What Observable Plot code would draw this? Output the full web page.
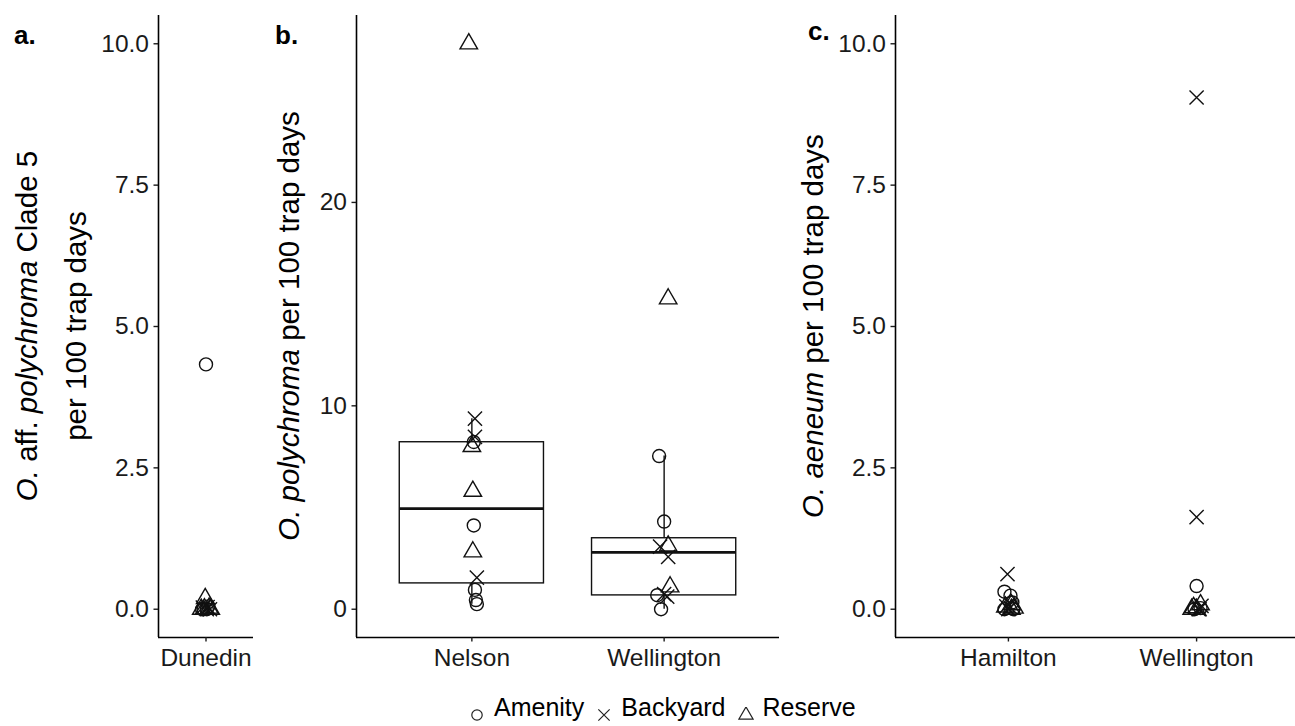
<!DOCTYPE html>
<html><head><meta charset="utf-8">
<script src="https://cdn.jsdelivr.net/npm/d3@7"></script>
<script src="https://cdn.jsdelivr.net/npm/@observablehq/plot@0.6"></script>
<style>
body{margin:0;background:#fff;}
#root{position:relative;width:1295px;height:726px;overflow:hidden;font-family:"Liberation Sans",Arial,sans-serif;color:#000;background:#fff;}
.panel{position:absolute;top:0;}
.ylab{position:absolute;white-space:nowrap;font-size:29.5px;line-height:1;transform:translate(-50%,-50%) rotate(-90deg);}
.tag{position:absolute;font-weight:bold;font-size:26px;line-height:1;}
#legend{position:absolute;left:469px;top:695px;display:flex;align-items:flex-start;font-size:25px;line-height:1;white-space:nowrap;}
#legend svg{position:relative;top:12px;margin-right:9px;}
#legend span{margin-right:12px;}
</style></head><body><div id="root"></div>
<script>
// ---------- shared ----------
const habitats = ["Amenity", "Backyard", "Reserve"];
const habitatSymbols = ["circle", "times", "triangle"];

// ---------- panel a: O. aff. polychroma Clade 5 ----------
const aSites = ["Dunedin"];
const aSite = ["Dunedin","Dunedin","Dunedin","Dunedin","Dunedin","Dunedin","Dunedin","Dunedin","Dunedin","Dunedin","Dunedin","Dunedin","Dunedin","Dunedin"];
const aValue = [4.33, 0.19, 0.05, 0.03, 0.02, 0, 0, 0, 0, 0, 0, 0, 0.04, 0.01];
const aHabitat = ["Amenity","Reserve","Amenity","Backyard","Reserve","Amenity","Backyard","Reserve","Amenity","Backyard","Reserve","Amenity","Backyard","Reserve"];
const aJitter = [0, -0.01, 0.03, -0.04, 0.04, -0.05, 0.01, 0.06, -0.03, 0.05, -0.06, 0.01, 0.02, -0.02];
const aTicks = [0, 2.5, 5, 7.5, 10];
const aDomain = [-0.5, 10.5];

// ---------- panel b: O. polychroma ----------
const bSites = ["Nelson", "Wellington"];
const bSite = ["Nelson","Nelson","Nelson","Nelson","Nelson","Nelson","Nelson","Nelson","Nelson","Nelson","Nelson","Nelson",
  "Wellington","Wellington","Wellington","Wellington","Wellington","Wellington","Wellington","Wellington","Wellington","Wellington","Wellington"];
const bValue = [27.8, 9.37, 8.47, 8.22, 8.0, 5.8, 4.12, 2.82, 1.55, 0.95, 0.45, 0.25,
  15.26, 7.53, 4.31, 3.08, 3.11, 2.57, 1.10, 0.69, 0.74, 0.62, 0.0];
const bHabitat = ["Reserve","Backyard","Backyard","Amenity","Reserve","Reserve","Amenity","Reserve","Backyard","Amenity","Amenity","Amenity",
  "Reserve","Amenity","Amenity","Backyard","Reserve","Backyard","Reserve","Amenity","Backyard","Backyard","Amenity"];
const bJitter = [-0.016, 0.016, 0.016, 0.01, 0, 0.005, 0.01, 0.005, 0.026, 0.016, 0.021, 0.026,
  0.021, -0.026, 0, -0.021, 0.021, 0.021, 0.031, -0.036, 0, 0.016, -0.016];
const bBoxSite = ["Nelson", "Wellington"];
const bBoxQ1 = [1.27, 0.68];
const bBoxMedian = [4.95, 2.80];
const bBoxQ3 = [8.21, 3.49];
const bBoxLow = [0.25, 0.0];
const bBoxHigh = [9.37, 7.53];
const bTicks = [0, 10, 20];
const bDomain = [-1.39, 29.19];

// ---------- panel c: O. aeneum ----------
const cSites = ["Hamilton", "Wellington"];
const cSite = ["Hamilton","Hamilton","Hamilton","Hamilton","Hamilton","Hamilton","Hamilton","Hamilton","Hamilton","Hamilton","Hamilton","Hamilton","Hamilton",
  "Wellington","Wellington","Wellington","Wellington","Wellington","Wellington","Wellington","Wellington","Wellington","Wellington","Wellington","Wellington"];
const cValue = [0.62, 0.31, 0.24, 0.12, 0.08, 0.05, 0.02, 0, 0, 0, 0, 0.04, 0.03,
  9.05, 1.63, 0.41, 0.08, 0.06, 0.03, 0, 0, 0, 0.02, 0, 0];
const cHabitat = ["Backyard","Amenity","Amenity","Amenity","Reserve","Backyard","Reserve","Amenity","Backyard","Reserve","Amenity","Reserve","Backyard",
  "Backyard","Backyard","Amenity","Reserve","Backyard","Reserve","Amenity","Backyard","Reserve","Amenity","Reserve","Backyard"];
const cJitter = [-0.005, -0.021, 0.011, 0.021, 0.016, -0.011, 0.032, -0.021, 0, 0.016, 0.026, -0.016, 0.011,
  0, 0, 0, 0.021, 0.026, -0.016, -0.011, 0.016, 0, 0.021, -0.026, 0.011];
const cTicks = [0, 2.5, 5, 7.5, 10];
const cDomain = [-0.5, 10.5];

// ---------- helpers ----------
const rows = (site, value, habitat, jitter) => site.map((s, i) => ({site: s, value: value[i], habitat: habitat[i], jitter: jitter[i]}));
const root = document.getElementById("root");
const TICK_FS = 24.5;

function panel({left, width, mL, mR, sites, data, yDomain, yTicks, fmt, boxes}) {
  const n = sites.length;
  const xDomain = [0.4, n + 0.6];
  const pos = s => sites.indexOf(s) + 1;
  const marks = [
    Plot.ruleY([yDomain[0]], {stroke: "#000", strokeWidth: 1.6}),
    Plot.ruleX([xDomain[0]], {stroke: "#000", strokeWidth: 1.6}),
    Plot.axisY({ticks: yTicks, tickFormat: fmt, tickSize: 4.5, tickPadding: 5, fontSize: TICK_FS, label: null, strokeWidth: 1.4}),
    Plot.axisX({ticks: d3.range(1, n + 1), tickFormat: i => sites[i - 1], tickSize: 4.5, tickPadding: 7, fontSize: TICK_FS, label: null, strokeWidth: 1.4})
  ];
  if (boxes) {
    marks.push(
      Plot.ruleX(boxes, {x: d => pos(d.site), y1: "low", y2: "high", stroke: "#111", strokeWidth: 1.4}),
      Plot.rectY(boxes, {x1: d => pos(d.site) - 0.375, x2: d => pos(d.site) + 0.375, y1: "q1", y2: "q3", fill: "white", stroke: "#111", strokeWidth: 1.4}),
      Plot.ruleY(boxes, {x1: d => pos(d.site) - 0.375, x2: d => pos(d.site) + 0.375, y: "median", stroke: "#111", strokeWidth: 2.8})
    );
  }
  marks.push(Plot.dot(data, {x: d => pos(d.site) + d.jitter, y: "value", symbol: "habitat", r: 6.5, stroke: "#111", fill: "none", strokeWidth: 1.4}));
  const p = Plot.plot({
    width, height: 690,
    marginLeft: mL, marginRight: mR, marginTop: 15, marginBottom: 53,
    x: {type: "linear", domain: xDomain},
    y: {type: "linear", domain: yDomain},
    symbol: {domain: habitats, range: habitatSymbols},
    style: {fontFamily: "'Liberation Sans', Arial, sans-serif", fontSize: TICK_FS + "px", color: "#1a1a1a", background: "transparent", overflow: "visible"},
    marks
  });
  p.classList.add("panel");
  p.style.left = left + "px";
  root.appendChild(p);
}

panel({left: 0, width: 262, mL: 158, mR: 9, sites: aSites, data: rows(aSite, aValue, aHabitat, aJitter),
  yDomain: aDomain, yTicks: aTicks, fmt: d3.format(".1f")});
panel({left: 300, width: 490, mL: 56, mR: 11, sites: bSites, data: rows(bSite, bValue, bHabitat, bJitter),
  yDomain: bDomain, yTicks: bTicks, fmt: d3.format("d"),
  boxes: bBoxSite.map((s, i) => ({site: s, q1: bBoxQ1[i], median: bBoxMedian[i], q3: bBoxQ3[i], low: bBoxLow[i], high: bBoxHigh[i]}))});
panel({left: 840, width: 480, mL: 55, mR: 11, sites: cSites, data: rows(cSite, cValue, cHabitat, cJitter),
  yDomain: cDomain, yTicks: cTicks, fmt: d3.format(".1f")});

// ---------- text: tags, y labels ----------
function addDiv(cls, html, x, y) {
  const d = document.createElement("div");
  d.className = cls; d.innerHTML = html;
  d.style.left = x + "px"; d.style.top = y + "px";
  root.appendChild(d);
}
addDiv("tag", "a.", 14, 22);
addDiv("tag", "b.", 275, 22);
addDiv("tag", "c.", 808, 18);
addDiv("ylab", "<i>O.</i> aff. <i>polychroma</i> Clade 5", 27, 326);
addDiv("ylab", "per 100 trap days", 76, 326);
addDiv("ylab", "<i>O. polychroma</i> per 100 trap days", 289, 326);
addDiv("ylab", "<i>O. aeneum</i> per 100 trap days", 813, 326);

// ---------- legend ----------
const legend = document.createElement("div");
legend.id = "legend";
const symFns = {circle: d3.symbolCircle, times: d3.symbolTimes, triangle: d3.symbolTriangle};
habitats.forEach((h, i) => {
  const svg = d3.create("svg").attr("width", 16).attr("height", 16);
  svg.append("path").attr("transform", "translate(8,8)")
    .attr("d", d3.symbol(symFns[habitatSymbols[i]], Math.PI * 5.2 * 5.2)())
    .attr("fill", "none").attr("stroke", "#222").attr("stroke-width", 1.2);
  legend.appendChild(svg.node());
  const sp = document.createElement("span");
  sp.textContent = h;
  legend.appendChild(sp);
});
root.appendChild(legend);
</script>
</body></html>
